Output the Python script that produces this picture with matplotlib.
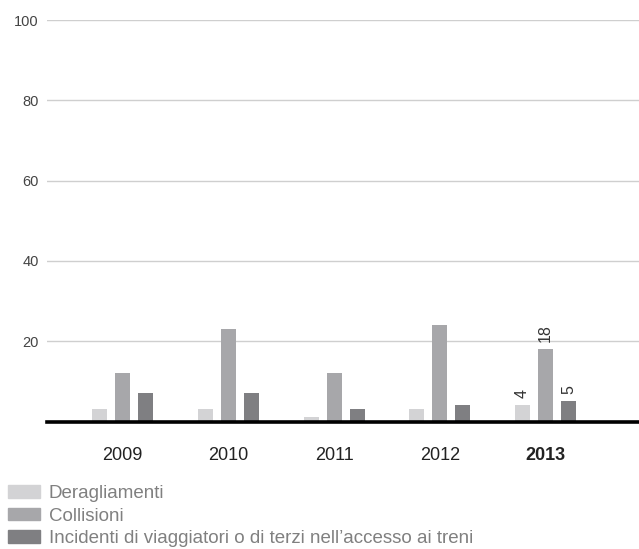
import numpy as np
import matplotlib
matplotlib.use('Agg')
import matplotlib.pyplot as plt
from matplotlib.patches import Patch

plt.rcParams['font.family'] = ['Liberation Sans', 'DejaVu Sans']

years = ['2009', '2010', '2011', '2012', '2013']
deragliamenti = [3, 3, 1, 3, 4]
collisioni = [12, 23, 12, 24, 18]
incidenti = [7, 7, 3, 4, 5]
series_names = ['Deragliamenti', 'Collisioni',
                "Incidenti di viaggiatori o di terzi nell\u2019accesso ai treni"]
colors = ['#d3d3d5', '#a7a7aa', '#7f7f82']

W, H = 639, 549
fig = plt.figure(figsize=(W / 100, H / 100), dpi=100)
ax = fig.add_axes([47 / W, (H - 421.5) / H, 1 - 47 / W, (421.5 - 20) / H])

x = np.arange(len(years))
bw, off = 0.142, 0.2175
for i, (vals, c) in enumerate(zip([deragliamenti, collisioni, incidenti], colors)):
    ax.bar(x + (i - 1) * off, vals, width=bw, color=c, zorder=3)

# value labels for the last year only
last = len(years) - 1
for i, vals in enumerate([deragliamenti, collisioni, incidenti]):
    ax.annotate(str(vals[last]), (x[last] + (i - 1) * off, vals[last]),
                xytext=(0, 5), textcoords='offset points', rotation=90,
                ha='center', va='bottom', fontsize=11.5, color='#333333')

ax.set_ylim(0, 100)
ax.set_xlim(-0.714, 4.884)
ax.set_yticks([20, 40, 60, 80, 100])
ax.yaxis.grid(True, color='#cfcfcf', lw=1)
ax.set_axisbelow(True)
for s in ax.spines.values():
    s.set_visible(False)
ax.tick_params(axis='y', length=0, pad=6, labelsize=10.5, labelcolor='#444444')
ax.set_xticks(x)
ax.set_xticklabels(years, fontsize=13, color='#222222')
ax.tick_params(axis='x', length=0, pad=18)
ax.get_xticklabels()[-1].set_fontweight('bold')

# heavy baseline
ax.axhline(0, color='black', lw=2.6, zorder=4, clip_on=False)

handles = [Patch(color=c) for c in colors]
fig.legend(handles, series_names, loc='upper left',
           bbox_to_anchor=(8 / W, 1 - 485 / H),
           frameon=False, fontsize=13.5, labelcolor='#808080', handlelength=1.7,
           handleheight=0.64, handletextpad=0.48, labelspacing=0.3,
           borderaxespad=0.0, borderpad=0.0)

fig.savefig('out.png', dpi=100)
